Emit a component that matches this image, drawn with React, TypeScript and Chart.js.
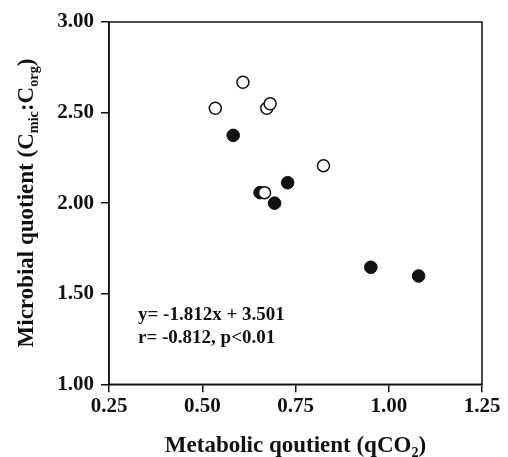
import React, { useEffect, useRef } from "react";
import { Chart, registerables } from "chart.js";

Chart.register(...registerables);

const filledX = [0.583, 0.655, 0.729, 0.694, 0.952, 1.08];
const filledY = [2.374, 2.058, 2.113, 2.0, 1.646, 1.598];
const openX = [0.535, 0.609, 0.825, 0.667, 0.673, 0.682];
const openY = [2.524, 2.667, 2.207, 2.058, 2.524, 2.549];
const xTicks = [0.25, 0.5, 0.75, 1.0, 1.25];
const yTicks = [1.0, 1.5, 2.0, 2.5, 3.0];
const eqLines = ["y= -1.812x + 3.501", "r= -0.812, p<0.01"];

const FONT = '"Liberation Serif", "Times New Roman", serif';

type Run = { t: string; sub?: boolean };

function drawRuns(ctx: CanvasRenderingContext2D, runs: Run[], cx: number, cy: number, size: number) {
  const subSize = size * 0.62;
  let total = 0;
  const widths = runs.map((r) => {
    ctx.font = `bold ${r.sub ? subSize : size}px ${FONT}`;
    const w = ctx.measureText(r.t).width;
    total += w;
    return w;
  });
  let x = cx - total / 2;
  ctx.textAlign = "left";
  ctx.textBaseline = "alphabetic";
  runs.forEach((r, i) => {
    ctx.font = `bold ${r.sub ? subSize : size}px ${FONT}`;
    ctx.fillText(r.t, x, cy + (r.sub ? size * 0.22 : 0));
    x += widths[i];
  });
}

const decor = {
  id: "decor",
  afterDraw(chart: any) {
    const { ctx, chartArea } = chart;
    ctx.save();
    ctx.strokeStyle = "#111";
    ctx.lineWidth = 1.5;
    ctx.strokeRect(chartArea.left, chartArea.top, chartArea.right - chartArea.left, chartArea.bottom - chartArea.top);
    ctx.fillStyle = "#111";
    // x title
    drawRuns(ctx, [{ t: "Metabolic qoutient (qCO" }, { t: "2", sub: true }, { t: ")" }], (chartArea.left + chartArea.right) / 2, 451.5, 23);
    // y title
    ctx.save();
    ctx.translate(33, 203);
    ctx.rotate(-Math.PI / 2);
    drawRuns(ctx, [{ t: "Microbial quotient (C" }, { t: "mic", sub: true }, { t: ":C" }, { t: "org", sub: true }, { t: ")" }], 0, 0, 23);
    ctx.restore();
    // equation
    ctx.font = `bold 19px ${FONT}`;
    ctx.textAlign = "left";
    ctx.textBaseline = "alphabetic";
    ctx.fillText(eqLines[0], chartArea.left + 29, 320);
    ctx.fillText(eqLines[1], chartArea.left + 29, 343);
    ctx.restore();
  },
};

export default function App() {
  const ref = useRef<HTMLCanvasElement>(null);
  useEffect(() => {
    const chart = new Chart(ref.current!, {
      type: "scatter",
      data: {
        datasets: [
          {
            label: "open",
            data: openX.map((x, i) => ({ x, y: openY[i] })),
            backgroundColor: "#fff",
            borderColor: "#111",
            borderWidth: 1.5,
            pointRadius: 6,
          },
          {
            label: "filled",
            data: filledX.map((x, i) => ({ x, y: filledY[i] })),
            backgroundColor: "#111",
            borderColor: "#111",
            borderWidth: 1,
            pointRadius: 6.3,
          },
        ],
      },
      options: {
        animation: false,
        responsive: true,
        maintainAspectRatio: false,
        layout: { padding: { left: 0, top: 22, right: 26, bottom: 0 } },
        plugins: { legend: { display: false }, tooltip: { enabled: false } },
        scales: {
          x: {
            type: "linear",
            min: 0.25,
            max: 1.25,
            afterBuildTicks: (s: any) => {
              s.ticks = xTicks.map((v) => ({ value: v }));
            },
            afterFit: (s: any) => {
              s.height = 72.7;
            },
            grid: { drawOnChartArea: false, tickLength: 8, color: "#111", lineWidth: 1.5 },
            border: { color: "#111", width: 1.5 },
            ticks: {
              color: "#111",
              font: { family: FONT, size: 21, weight: "bold" },
              padding: 2,
              callback: (v: any) => Number(v).toFixed(2),
              maxRotation: 0,
            },
          },
          y: {
            type: "linear",
            min: 1,
            max: 3,
            afterBuildTicks: (s: any) => {
              s.ticks = yTicks.map((v) => ({ value: v }));
            },
            afterFit: (s: any) => {
              s.width = 109;
            },
            grid: { drawOnChartArea: false, tickLength: 8, color: "#111", lineWidth: 1.5 },
            border: { color: "#111", width: 1.5 },
            ticks: {
              color: "#111",
              font: { family: FONT, size: 21, weight: "bold" },
              padding: 7,
              callback: (v: any) => Number(v).toFixed(2),
            },
          },
        },
      },
      plugins: [decor],
    });
    return () => chart.destroy();
  }, []);
  return (
    <div style={{ position: "fixed", left: 0, top: 0, width: 508, height: 457, background: "#fff" }}>
      <canvas ref={ref} />
    </div>
  );
}
